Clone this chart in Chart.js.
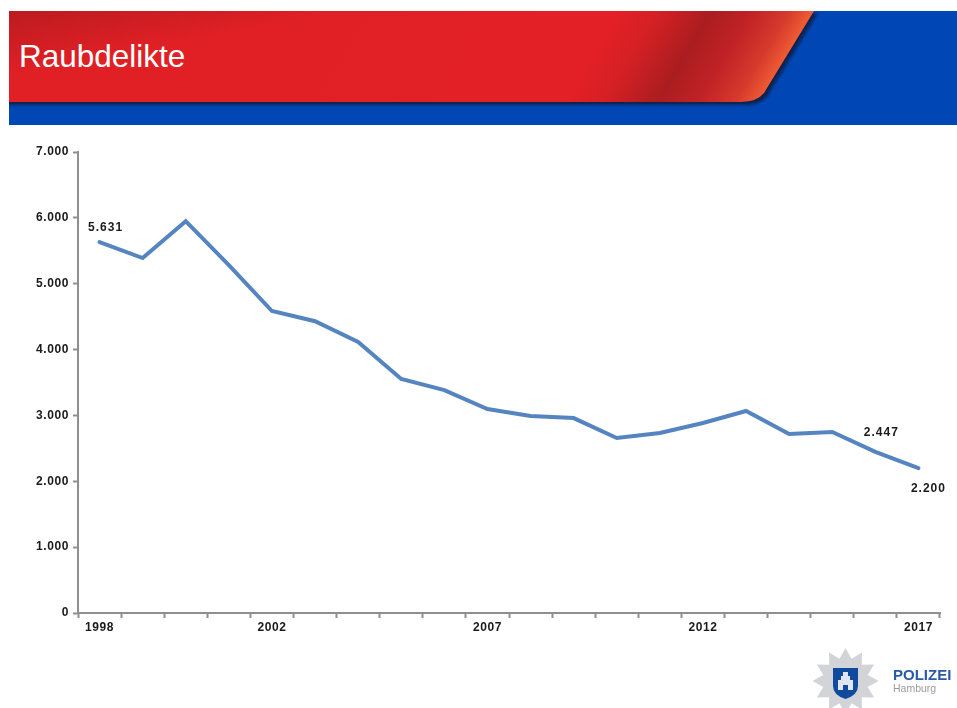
<!DOCTYPE html>
<html lang="de">
<head>
<meta charset="utf-8">
<title>Raubdelikte</title>
<script src="https://cdn.jsdelivr.net/npm/chart.js@4/dist/chart.umd.min.js"></script>
<style>
    html, body { margin: 0; padding: 0; background: #fff; overflow: hidden; }
    #page { position: relative; width: 957px; height: 708px; overflow: hidden; font-family: "Liberation Sans", Arial, sans-serif; }
    #banner { position: absolute; left: 0; top: 0; }
    #title { position: absolute; left: 19px; top: 38px; font-size: 31.5px; line-height: 36px; color: #fff; }
    #chartBox { position: absolute; left: 0; top: 125px; }
    #logo { position: absolute; left: 0; top: 0; }
    #polizei { position: absolute; left: 893px; top: 667px; font-size: 15px; line-height: 16px; font-weight: bold; color: #2a5aa8; }
    #hamburg { position: absolute; left: 893px; top: 683px; font-size: 10.5px; line-height: 11px; color: #9a9a9a; }
</style>
</head>
<body>
<div id="page">
    <svg id="banner" width="957" height="130" xmlns="http://www.w3.org/2000/svg">
        <defs>
            <linearGradient id="redBand" gradientUnits="userSpaceOnUse" x1="0" y1="0" x2="800" y2="476">
                <stop offset="0" stop-color="#e02025"/>
                <stop offset="0.58" stop-color="#e22025"/>
                <stop offset="0.615" stop-color="#d42024"/>
                <stop offset="0.663" stop-color="#ab1d20"/>
                <stop offset="0.70" stop-color="#c02226"/>
                <stop offset="0.735" stop-color="#d63a2c"/>
                <stop offset="0.756" stop-color="#ee5a34"/>
            </linearGradient>
            <linearGradient id="cornerShade" gradientUnits="userSpaceOnUse" x1="9" y1="11" x2="20.6" y2="73">
                <stop offset="0" stop-color="#8f1518" stop-opacity="0.45"/>
                <stop offset="1" stop-color="#8f1518" stop-opacity="0"/>
            </linearGradient>
            <filter id="soft" x="-5%" y="-20%" width="110%" height="140%">
                <feGaussianBlur stdDeviation="1.5"/>
            </filter>
            <clipPath id="bannerClip"><rect x="9" y="11" width="948" height="114"/></clipPath>
        </defs>
        <rect x="9" y="11" width="948" height="114" fill="#0047b6"/>
        <g clip-path="url(#bannerClip)">
            <path d="M0 13 H818 L771 90 Q765 105 745 105 H0 Z" fill="#08204f" filter="url(#soft)"/>
        </g>
        <path d="M9 11 H814 L767 88 Q761 102 741 102 H9 Z" fill="url(#redBand)"/>
        <path d="M9 11 H814 L767 88 Q761 102 741 102 H9 Z" fill="url(#cornerShade)"/>
    </svg>
    <div id="title">Raubdelikte</div>
    <div id="chartBox"><canvas id="crimeChart" width="957" height="583"></canvas></div>
    <svg id="logo" width="957" height="708" xmlns="http://www.w3.org/2000/svg">
        <polygon id="star" fill="#d2d4d7"/>
        <path d="M833 668 H858 V686 Q858 695 845.5 699 Q833 695 833 686 Z" fill="#0f4a9e"/>
        <path d="M838 690 V680 H841 V676 H843 V672 H848 V676 H850 V680 H853 V690 H848 V685 H843 V690 Z" fill="#dfe6f2"/>
    </svg>
    <div id="polizei">POLIZEI</div>
    <div id="hamburg">Hamburg</div>
</div>
<script>
    // Raubdelikte pro Jahr
    const years = ['1998', '1999', '2000', '2001', '2002', '2003', '2004', '2005', '2006', '2007',
                   '2008', '2009', '2010', '2011', '2012', '2013', '2014', '2015', '2016', '2017'];
    const cases = [5631, 5390, 5950, 5284, 4585, 4430, 4115, 3553, 3385, 3097,
                   2991, 2960, 2657, 2733, 2885, 3067, 2718, 2748, 2447, 2200];
    const yearLabels = ['1998', '2002', '2007', '2012', '2017'];
    const valueLabelYears = ['1998', '2016', '2017'];

    const axisGrey = '#8f8f8f';
    const tickFont = { family: '"Liberation Sans", Arial, sans-serif', size: 12, weight: 'bold' };
    const formatNumber = v => v.toLocaleString('de-DE');

    // Stern vom Polizeilogo
    const starPoints = [];
    for (let i = 0; i < 24; i++) {
        const r = i % 2 === 0 ? 33 : 23;
        const a = i * Math.PI / 12 - Math.PI / 2;
        starPoints.push((845.5 + r * Math.cos(a)).toFixed(1) + ',' + (681 + r * Math.sin(a)).toFixed(1));
    }
    document.getElementById('star').setAttribute('points', starPoints.join(' '));

    // etwas breitere Zahlen auf den Achsen
    const wideText = {
        id: 'wideText',
        beforeDraw(chart) { chart.ctx.letterSpacing = '0.6px'; }
    };

    // Wertebeschriftung an einzelnen Jahren
    const valueLabels = {
        id: 'valueLabels',
        afterDatasetsDraw(chart) {
            const { ctx, scales } = chart;
            const shift = { '1998': [6, -14], '2016': [6, -19], '2017': [10, 21] };
            ctx.save();
            ctx.font = 'bold 12px "Liberation Sans", Arial, sans-serif';
            ctx.letterSpacing = '1px';
            ctx.fillStyle = '#1a1a1a';
            ctx.textAlign = 'center';
            ctx.textBaseline = 'middle';
            valueLabelYears.forEach(year => {
                const i = years.indexOf(year);
                const x = scales.x.getPixelForValue(i) + shift[year][0];
                const y = scales.y.getPixelForValue(cases[i]) + shift[year][1];
                ctx.fillText(formatNumber(cases[i]), x, y);
            });
            ctx.restore();
        }
    };

    new Chart(document.getElementById('crimeChart').getContext('2d'), {
        type: 'line',
        data: {
            labels: years,
            datasets: [{
                label: 'Raubdelikte',
                data: cases,
                borderColor: '#5585c0',
                borderWidth: 4,
                borderCapStyle: 'round',
                tension: 0,
                pointRadius: 0,
                fill: false
            }]
        },
        options: {
            responsive: false,
            animation: false,
            layout: { padding: { top: 27, right: 17, left: 0, bottom: 0 } },
            plugins: { legend: { display: false }, tooltip: { enabled: false } },
            scales: {
                x: {
                    offset: true,
                    afterFit: scale => { scale.height = 95; },
                    border: { color: axisGrey, width: 2 },
                    grid: { offset: true, drawOnChartArea: false, color: axisGrey, tickLength: 5, tickWidth: 2 },
                    ticks: {
                        autoSkip: false,
                        maxRotation: 0,
                        padding: 2,
                        color: '#1a1a1a',
                        font: tickFont,
                        callback(value) {
                            const year = this.getLabelForValue(value);
                            return yearLabels.includes(year) ? year : '';
                        }
                    }
                },
                y: {
                    min: 0,
                    max: 7000,
                    afterFit: scale => { scale.width = 78; },
                    border: { color: axisGrey, width: 2 },
                    grid: { drawOnChartArea: false, color: axisGrey, tickLength: 5, tickWidth: 2 },
                    ticks: {
                        stepSize: 1000,
                        padding: 4,
                        color: '#1a1a1a',
                        font: tickFont,
                        callback: value => formatNumber(value)
                    }
                }
            }
        },
        plugins: [wideText, valueLabels]
    });
</script>
</body>
</html>
